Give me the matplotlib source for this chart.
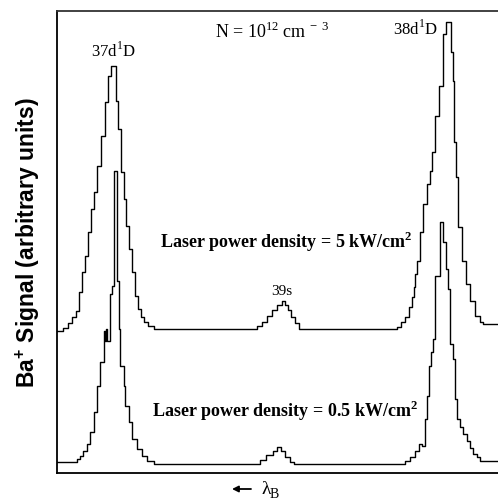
import matplotlib
matplotlib.use("Agg")
import matplotlib.pyplot as plt

# Ba+ signal vs. laser wavelength.
# position = scan position (arbitrary, 0..441), signal = arbitrary units (0..462)
pos_5kw = [0, 6, 11, 15, 19, 22, 25, 28, 31, 34, 37, 40, 44, 48, 51, 54, 59, 61,
           64, 67, 69, 72, 75, 78, 81, 84, 87, 91, 97, 200, 205, 210, 215, 220,
           225, 228, 231, 234, 238, 242, 340, 344, 348, 352, 355, 357, 358, 360,
           363, 366, 370, 373, 375, 378, 382, 386, 389, 394, 396, 397, 399, 401,
           405, 409, 413, 418, 423, 426, 441]
sig_5kw = [142, 145, 150, 156, 162, 181, 201, 217, 241, 264, 281, 307, 337, 371,
           397, 407, 372, 344, 301, 274, 247, 224, 201, 177, 164, 156, 151, 147,
           144, 147, 151, 157, 163, 168, 172, 168, 163, 156, 150, 144, 146, 151,
           156, 166, 176, 186, 199, 212, 241, 269, 289, 302, 321, 357, 387, 439,
           451, 421, 392, 331, 296, 246, 212, 189, 172, 157, 151, 149, 149]

pos_05kw = [0, 20, 23, 26, 30, 33, 37, 40, 43, 47, 48, 49, 50, 53, 55, 57, 60, 62,
            63, 67, 68, 72, 75, 80, 85, 90, 97, 203, 209, 216, 220, 224, 228,
            233, 237, 348, 353, 358, 362, 365, 368, 370, 372, 374, 376, 378,
            383, 386, 389, 391, 393, 396, 398, 400, 403, 406, 410, 413, 416,
            420, 423, 441]
sig_05kw = [11, 14, 17, 22, 29, 41, 61, 87, 111, 142, 132, 144, 132, 179, 187, 302,
            192, 144, 107, 87, 67, 51, 34, 24, 17, 12, 9, 13, 18, 22, 26, 22, 16,
            11, 9, 12, 16, 22, 29, 27, 54, 77, 107, 121, 134, 197, 251, 231, 204,
            184, 129, 114, 74, 54, 46, 39, 32, 25, 19, 16, 12, 12]

serif = ["Liberation Serif", "DejaVu Serif"]
plt.rcParams["mathtext.fontset"] = "custom"
plt.rcParams["mathtext.rm"] = "Liberation Serif"
plt.rcParams["mathtext.bf"] = "Liberation Serif:bold"
plt.rcParams["mathtext.sf"] = "Liberation Sans:bold"

fig = plt.figure(figsize=(4.98, 5.02), dpi=100)
ax = fig.add_axes([57 / 498, 28 / 502, 441 / 498, 462 / 502])

ax.plot(pos_5kw, sig_5kw, drawstyle="steps-post", color="black", lw=1.0)
ax.plot(pos_05kw, sig_05kw, drawstyle="steps-post", color="black", lw=1.0)

ax.set_xlim(0, 441)
ax.set_ylim(0, 462)
ax.set_xticks([])
ax.set_yticks([])
ax.spines["right"].set_visible(False)
for s in ["left", "top", "bottom"]:
    ax.spines[s].set_linewidth(1.3)
ax.spines["top"].set_color("#333333")

ax.text(56, 417, "37d$^1$D", family=serif, fontsize=12, ha="center", va="baseline")
ax.text(158, 436, "N = 10$^{12}$ cm$^{\\,-\\,3}$", family=serif, fontsize=13,
        va="baseline")
ax.text(381, 439, "38d$^1$D", family=serif, fontsize=12, ha="right", va="baseline")
ax.text(225, 179, "39s", family=serif, fontsize=11, ha="center", va="baseline")
ax.text(103, 226, "Laser power density = 5 kW/cm$^\\mathbf{2}$", family=serif,
        fontsize=13, fontweight="bold", va="baseline")
ax.text(95, 57, "Laser power density = 0.5 kW/cm$^\\mathbf{2}$", family=serif,
        fontsize=13, fontweight="bold", va="baseline")

fig.text(28 / 498, 1 - 243 / 502, "Ba$^\\mathsf{+}$ Signal (arbitrary units)",
         family=["Liberation Sans", "DejaVu Sans"], fontsize=16.5, fontweight="bold",
         rotation=90, ha="center", va="center")

# wavelength direction arrow
ax.annotate("", xy=(232 / 498, 1 - 490 / 502), xytext=(251 / 498, 1 - 490 / 502),
            xycoords="figure fraction", textcoords="figure fraction",
            arrowprops=dict(arrowstyle="-|>", color="black", lw=1.3,
                            mutation_scale=9, shrinkA=0, shrinkB=0))
fig.text(261 / 498, 1 - 494 / 502, "\u03bb", family=serif, fontsize=14,
         va="baseline")
fig.text(270 / 498, 1 - 498 / 502, "B", family=serif, fontsize=10, va="baseline")

fig.savefig("out.png", dpi=100)
